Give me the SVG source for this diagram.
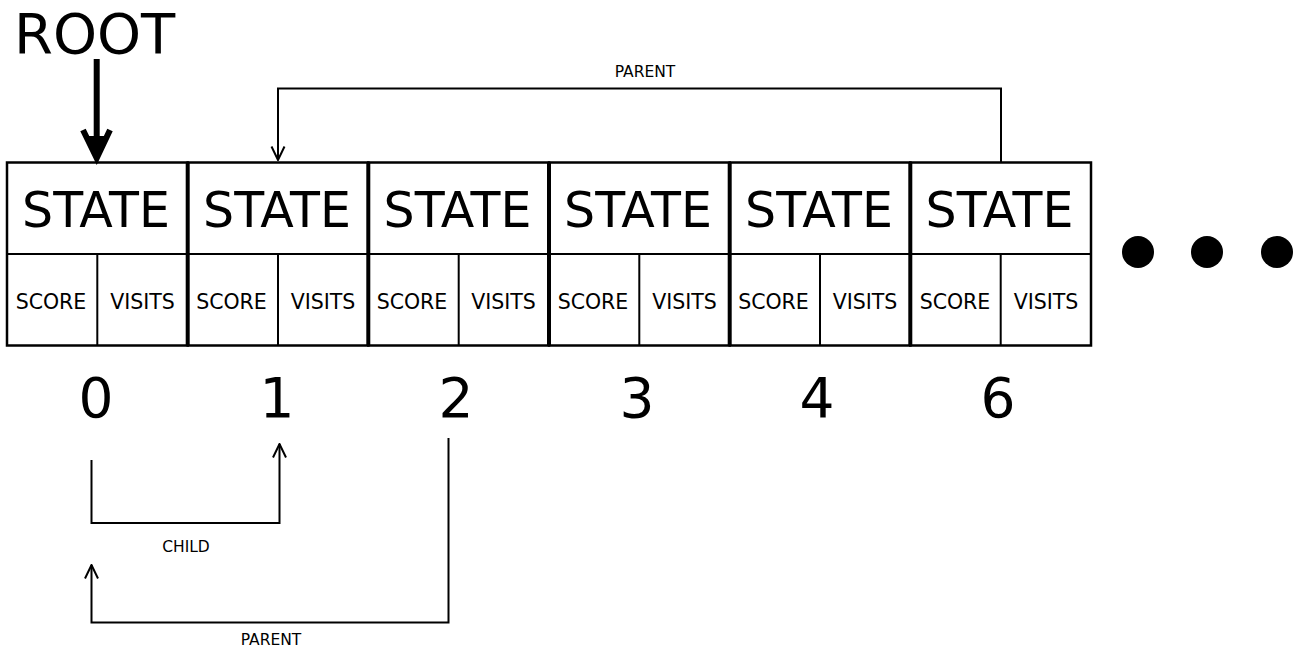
<svg xmlns="http://www.w3.org/2000/svg" width="1296" height="648" viewBox="0 0 1296 648">
<style>
text{font-family:"DejaVu Sans","Liberation Sans",sans-serif;fill:#000;text-anchor:middle}
.st{font-size:49px}
.sm{font-size:20.5px}
.num{font-size:55px}
.lbl{font-size:15.5px}
.root{font-size:56px;text-anchor:start}
.box{fill:#fff;stroke:#000;stroke-width:2.5}
.thin{stroke:#000;stroke-width:2}
.conn{fill:none;stroke:#000;stroke-width:2}
.dot{fill:#000}
</style>
<defs>
<marker id="open" viewBox="0 0 16 16" refX="15" refY="8" markerWidth="16" markerHeight="16" markerUnits="userSpaceOnUse" orient="auto">
<path d="M1.5,1.5 L15,8 L1.5,14.5" fill="none" stroke="#000" stroke-width="2"/>
</marker>
</defs>
<rect width="1296" height="648" fill="#fff"/>
<g id="root-label"><text class="root" x="14" y="53">ROOT</text></g>
<g id="cell0"><rect class="box" x="7" y="162.5" width="180.7" height="183"/><line class="thin" x1="7" y1="254" x2="187.7" y2="254"/><line class="thin" x1="97.3" y1="254" x2="97.3" y2="345.5"/><text class="st" x="96" y="227">STATE</text><text class="sm" x="51" y="309">SCORE</text><text class="sm" x="142.5" y="309">VISITS</text><text class="num" x="96" y="417">0</text></g>
<g id="cell1"><rect class="box" x="187.7" y="162.5" width="180.7" height="183"/><line class="thin" x1="187.7" y1="254" x2="368.3" y2="254"/><line class="thin" x1="278" y1="254" x2="278" y2="345.5"/><text class="st" x="277" y="227">STATE</text><text class="sm" x="231.5" y="309">SCORE</text><text class="sm" x="323" y="309">VISITS</text><text class="num" x="277" y="417">1</text></g>
<g id="cell2"><rect class="box" x="368.3" y="162.5" width="180.7" height="183"/><line class="thin" x1="368.3" y1="254" x2="549" y2="254"/><line class="thin" x1="458.7" y1="254" x2="458.7" y2="345.5"/><text class="st" x="457.5" y="227">STATE</text><text class="sm" x="412" y="309">SCORE</text><text class="sm" x="503.5" y="309">VISITS</text><text class="num" x="456" y="417">2</text></g>
<g id="cell3"><rect class="box" x="549" y="162.5" width="180.7" height="183"/><line class="thin" x1="549" y1="254" x2="729.7" y2="254"/><line class="thin" x1="639.3" y1="254" x2="639.3" y2="345.5"/><text class="st" x="638" y="227">STATE</text><text class="sm" x="593" y="309">SCORE</text><text class="sm" x="684.5" y="309">VISITS</text><text class="num" x="637" y="417">3</text></g>
<g id="cell4"><rect class="box" x="729.7" y="162.5" width="180.7" height="183"/><line class="thin" x1="729.7" y1="254" x2="910.3" y2="254"/><line class="thin" x1="820" y1="254" x2="820" y2="345.5"/><text class="st" x="819" y="227">STATE</text><text class="sm" x="773.5" y="309">SCORE</text><text class="sm" x="865" y="309">VISITS</text><text class="num" x="817" y="417">4</text></g>
<g id="cell6"><rect class="box" x="910.3" y="162.5" width="180.7" height="183"/><line class="thin" x1="910.3" y1="254" x2="1091" y2="254"/><line class="thin" x1="1000.7" y1="254" x2="1000.7" y2="345.5"/><text class="st" x="999.5" y="227">STATE</text><text class="sm" x="955" y="309">SCORE</text><text class="sm" x="1046" y="309">VISITS</text><text class="num" x="998" y="417">6</text></g>
<g id="dividers">
<line x1="187.7" y1="162" x2="187.7" y2="346" stroke="#000" stroke-width="4"/>
<line x1="368.3" y1="162" x2="368.3" y2="346" stroke="#000" stroke-width="4"/>
<line x1="549" y1="162" x2="549" y2="346" stroke="#000" stroke-width="4"/>
<line x1="729.7" y1="162" x2="729.7" y2="346" stroke="#000" stroke-width="4"/>
<line x1="910.3" y1="162" x2="910.3" y2="346" stroke="#000" stroke-width="4"/>
</g>
<g id="ellipsis"><circle class="dot" cx="1138" cy="252" r="16"/><circle class="dot" cx="1207" cy="252" r="16"/><circle class="dot" cx="1277" cy="252" r="16"/></g>
<g id="connectors">
<line x1="96.7" y1="59" x2="96.7" y2="152" stroke="#000" stroke-width="6"/>
<path d="M83,130 L96.7,158 L110,130" fill="none" stroke="#000" stroke-width="6" stroke-linejoin="miter"/>
<path d="M88,136 L96.7,156 L105,136 Z" fill="#000"/>
<path class="conn" d="M1001,162 V88.5 H278 V160"/>
<path class="conn" d="M278,148 V160" marker-end="url(#open)"/>
<text class="lbl" x="645" y="77">PARENT</text>
<path class="conn" d="M91.5,460 V523 H279.5 V444" marker-end="url(#open)"/>
<text class="lbl" x="186" y="552">CHILD</text>
<path class="conn" d="M448.5,438 V622.5 H91.5 V565" marker-end="url(#open)"/>
<text class="lbl" x="271" y="645">PARENT</text>
</g>
</svg>
